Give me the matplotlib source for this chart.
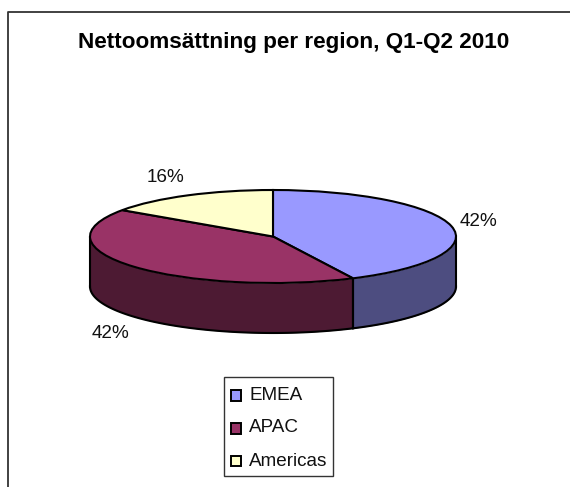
#!python

import numpy as np
import matplotlib
matplotlib.use('Agg')
from matplotlib import pylab as plt
from matplotlib.patches import Rectangle

regions = ['EMEA', 'APAC', 'Americas']
# slice sizes as measured on the drawn ellipse, labels as printed
shares = [42.8, 41.8, 15.4]
share_labels = ['42%', '42%', '16%']
top_colors = ['#9999ff', '#993366', '#ffffcc']
side_colors = ['#4d4d80', '#4d1a33']
title = 'Nettoomsättning per region, Q1-Q2 2010'

plt.rcParams['font.family'] = ['Liberation Sans', 'DejaVu Sans']

W, H = 570, 487
fig = plt.figure(figsize=(W / 100, H / 100), dpi=100)
ax = fig.add_axes([0, 0, 1, 1])

# pie centre and radii in pixels, one data unit is one radius
cx, cy = 273, 236.5
rx, ry = 183, 46.5
depth = 50 / ry

# chart frame, only left and top show in the crop
frame_x = [7.5, 7.5, W]
frame_y = [H, 12, 12]
fig.add_artist(plt.Line2D([x / W for x in frame_x], [1 - y / H for y in frame_y],
                          color='#333333', lw=1.3))

# side wall first, walking clockwise from 12 o'clock
edges = np.cumsum([0] + shares) / sum(shares) * 2 * np.pi
for i, col in enumerate(side_colors):
    a0 = max(edges[i], np.pi / 2)
    a1 = min(edges[i + 1], 3 * np.pi / 2)
    t = np.linspace(a0, a1, 100)
    x = np.sin(t)
    y = np.cos(t)
    ax.fill_between(x, y, y - depth, color=col, lw=0, zorder=1)
    ax.plot(x, y - depth, color='black', lw=1.5, zorder=2)
    ax.plot([x[0], x[0]], [y[0], y[0] - depth], color='black', lw=1.5, zorder=2)
    ax.plot([x[-1], x[-1]], [y[-1], y[-1] - depth], color='black', lw=1.5, zorder=2)

wedges, _ = ax.pie(shares, colors=top_colors, startangle=90, counterclock=False,
                   radius=1, wedgeprops={'edgecolor': 'black', 'linewidth': 1.5, 'zorder': 3})

ax.set_aspect('auto')
ax.set_xlim(-cx / rx, (W - cx) / rx)
ax.set_ylim((cy - H) / ry, cy / ry)
ax.axis('off')

# percent labels, positions in figure pixels
label_pos = [(478, 226.5), (111, 338), (165, 181.5)]
for lab, (px, py) in zip(share_labels, label_pos):
    fig.text(px / W, 1 - py / H, lab, ha='center', va='baseline', fontsize=13.6, color='#111111')

fig.text(294 / W, 1 - 48 / H, title, ha='center', va='baseline', fontsize=16.2, fontweight='bold')

# legend box
fig.add_artist(Rectangle((223.5 / W, 1 - 476 / H), 109 / W, 99 / H, transform=fig.transFigure,
                         fc='white', ec='#333333', lw=1.0))
swatch_y = [395, 428, 460.5]
text_y = [400, 432.5, 466]
for name, col, sy, ty in zip(regions, top_colors, swatch_y, text_y):
    fig.add_artist(Rectangle((230.5 / W, 1 - (sy + 5.5) / H), 10.5 / W, 10.5 / H, transform=fig.transFigure,
                             fc=col, ec='black', lw=1.4))
    fig.text(249 / W, 1 - ty / H, name, ha='left', va='baseline', fontsize=13.6, color='#111111')

fig.savefig('out.png', dpi=100)
